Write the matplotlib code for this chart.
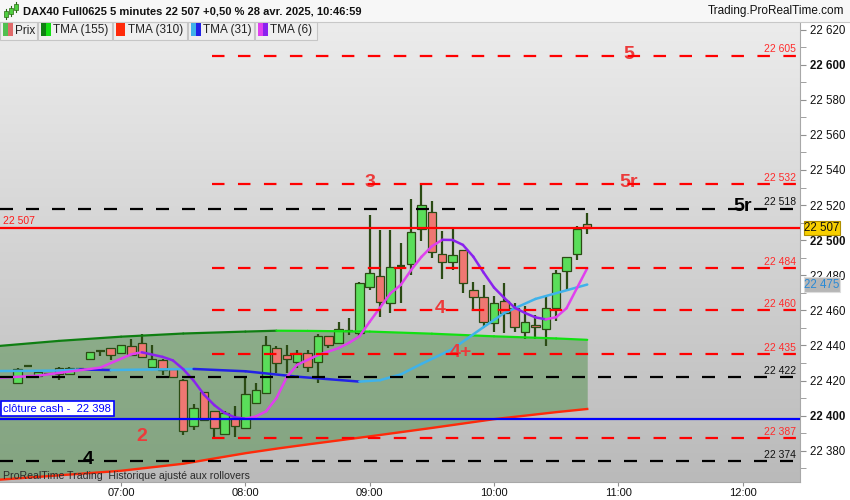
import numpy as np
import pandas as pd
import matplotlib.pyplot as plt
import matplotlib.transforms as mtransforms
from matplotlib.patches import Rectangle
from matplotlib.colors import LinearSegmentedColormap

plt.rcParams['font.family'] = ['Liberation Sans', 'DejaVu Sans']
plt.rcParams['lines.scale_dashes'] = False

W, H = 850, 500

# DAX40 Full0625, 5 minutes, 28 avr. 2025
candle_times = pd.date_range('2025-04-28 06:10', '2025-04-28 10:45', freq='5min')
opens = [22418.5, 22428.5, 22422.8, 22424.0, 22427.4, 22423.6, 22426.8, 22432.1, 22436.7, 22438.4,
         22435.9, 22439.5, 22441.3, 22427.9, 22431.7, 22426.4, 22420.3, 22394.3, 22413.3, 22402.7,
         22389.4, 22398.5, 22393.2, 22407.4, 22413.1, 22438.4, 22434.4, 22430.4, 22435.6, 22430.4,
         22445.4, 22441.3, 22448.0, 22447.0, 22473.2, 22479.8, 22464.0, 22485.2, 22486.3, 22506.4,
         22515.9, 22492.0, 22487.4, 22494.4, 22471.6, 22467.5, 22453.0, 22465.4, 22461.2, 22447.9,
         22451.5, 22449.2, 22461.2, 22482.5, 22492.0, 22509.2]
closes = [22426.4, 22428.5, 22425.0, 22424.0, 22423.6, 22427.0, 22426.8, 22436.1, 22436.7, 22434.4,
          22440.1, 22434.6, 22433.3, 22432.3, 22426.0, 22422.2, 22391.5, 22404.2, 22397.5, 22393.2,
          22401.4, 22394.3, 22412.2, 22414.6, 22440.3, 22430.2, 22432.1, 22435.6, 22427.6, 22445.4,
          22440.1, 22449.2, 22448.0, 22475.4, 22481.1, 22465.0, 22484.9, 22485.2, 22504.8, 22519.9,
          22493.1, 22487.4, 22491.4, 22475.4, 22467.8, 22453.2, 22464.0, 22458.3, 22450.4, 22453.2,
          22450.4, 22461.2, 22481.1, 22490.3, 22506.2, 22507.0]
highs = [22427.0, 22428.8, 22425.5, 22424.5, 22428.0, 22428.0, 22427.2, 22436.3, 22437.0, 22438.6,
         22440.3, 22443.7, 22446.5, 22440.3, 22432.0, 22426.6, 22421.0, 22406.7, 22413.5, 22402.9,
         22402.7, 22405.5, 22421.3, 22418.8, 22445.4, 22439.9, 22440.3, 22437.4, 22437.4, 22446.6,
         22445.6, 22453.2, 22455.7, 22476.4, 22514.4, 22505.8, 22505.8, 22498.2, 22523.3, 22531.5,
         22522.3, 22505.2, 22507.5, 22494.6, 22476.4, 22474.5, 22468.2, 22475.4, 22464.0, 22462.5,
         22457.4, 22467.5, 22483.0, 22490.6, 22508.1, 22515.3]
lows = [22418.0, 22428.2, 22422.5, 22423.5, 22420.3, 22423.3, 22426.4, 22432.0, 22434.2, 22431.7,
        22435.7, 22434.4, 22433.1, 22427.7, 22423.2, 22421.5, 22389.0, 22391.9, 22397.3, 22386.6,
        22389.2, 22388.0, 22393.0, 22407.2, 22412.9, 22424.2, 22424.5, 22427.0, 22425.1, 22418.5,
        22438.6, 22441.1, 22446.0, 22445.0, 22471.6, 22456.0, 22458.3, 22464.0, 22480.2, 22499.7,
        22490.0, 22477.9, 22483.0, 22470.1, 22459.8, 22451.1, 22447.7, 22447.3, 22447.5, 22443.5,
        22443.5, 22439.9, 22454.1, 22471.2, 22488.7, 22503.4]

# moving averages
long_ma_times = ["06:00", "06:30", "07:00", "07:30", "08:00", "08:15", "08:30", "09:00",
                 "09:30", "10:00", "10:30", "10:45"]
tma155 = [22439.6, 22442.6, 22445.0, 22446.8, 22447.9, 22448.4, 22448.3, 22447.9,
          22446.7, 22445.2, 22444.0, 22443.2]
tma310 = [22363.4, 22366.0, 22368.6, 22372.6, 22378.6, 22381.2, 22383.6, 22388.2,
          22393.0, 22398.0, 22402.0, 22403.8]

tma31_times = ["06:00", "06:30", "06:40", "06:55", "07:15", "07:35", "08:00", "08:25", "08:55",
               "09:05", "09:15", "09:25", "09:40", "09:55", "10:05", "10:20", "10:45"]
tma31 = [22425.4, 22425.7, 22426.3, 22426.0, 22426.3, 22426.6, 22425.3, 22422.2, 22419.4,
         22420.2, 22423.5, 22429.5, 22438.0, 22450.5, 22458.5, 22466.5, 22474.7]

tma6_times = ["06:00", "06:20", "06:50", "07:05", "07:10", "07:20", "07:25", "07:30", "07:35", "07:40",
              "07:45", "07:50", "07:55", "08:00", "08:05", "08:10", "08:15", "08:20", "08:25", "08:35",
              "08:45", "08:50", "08:55", "09:00", "09:10", "09:15", "09:20", "09:25", "09:30", "09:35",
              "09:40", "09:45", "09:50", "09:55", "10:00", "10:05", "10:10", "10:15", "10:20", "10:25",
              "10:30", "10:35", "10:40", "10:45"]
tma6 = [22421.5, 22422.8, 22427.4, 22435.0, 22436.1, 22433.5, 22431.5, 22426.5, 22420.0, 22412.0,
        22406.0, 22401.5, 22399.0, 22398.3, 22399.5, 22402.5, 22410.0, 22422.0, 22429.0, 22434.5,
        22438.5, 22441.5, 22445.2, 22453.5, 22469.7, 22474.5, 22483.0, 22490.5, 22496.5, 22500.2,
        22500.1, 22497.3, 22490.6, 22481.5, 22473.0, 22467.0, 22461.5, 22458.5, 22456.0, 22454.9,
        22456.1, 22461.2, 22472.6, 22484.0]

# horizontal levels
red_levels = [22605, 22532, 22484, 22460, 22435, 22387]
black_levels = [22518, 22422, 22374]
last_price = 22507
cash_close = 22398

pivot_text = ["5", "3", "5r", "5r", "4", "4+", "2", "4"]
pivot_level = [22605, 22532, 22532, 22518, 22460, 22435, 22387, 22374]
pivot_time = ["11:05", "09:00", "11:05", "12:00", "09:34", "09:44", "07:10", "06:44"]
pivot_black = [False, False, False, True, False, False, False, True]

x_ticks = ["07:00", "08:00", "09:00", "10:00", "11:00", "12:00"]
y_ticks = list(range(22380, 22621, 20))


def to_min(s):
    h, m = s.split(':')
    return int(h) * 60 + int(m)


def fmt(v):
    return f"{int(round(v)):,}".replace(",", " ")


def slope_line(ax, times, vals, up, down, lw):
    # ProRealTime colours an average by the sign of its slope
    t = [to_min(s) for s in times]
    for i in range(len(t) - 1):
        c = up if vals[i + 1] >= vals[i] else down
        ax.plot(t[i:i + 2], vals[i:i + 2], color=c, lw=lw, solid_capstyle='round', zorder=4)


fig = plt.figure(figsize=(W / 100, H / 100), dpi=100, facecolor='white')
ax = fig.add_axes([0, 18 / H, 800 / W, 460 / H])
xmin, xmax = 361.55, 747.7
ymin, ymax = 22362.2, 22624.3

bg = LinearSegmentedColormap.from_list('bg', ['#ececec', '#bababa'])
ax.imshow(np.linspace(0, 1, 256).reshape(-1, 1), extent=[xmin, xmax, ymin, ymax],
          aspect='auto', cmap=bg, origin='upper', zorder=0)

# band between the two long averages
lt = [to_min(s) for s in long_ma_times]
ax.fill_between(lt, tma310, tma155, color='#4f8f4a', alpha=0.5, lw=0, zorder=1)

# candles
ct = np.array([d.hour * 60 + d.minute for d in candle_times])
edge = '#2b4b14'
for t, o, h, l, c in zip(ct, opens, highs, lows, closes):
    ax.vlines(t, l, h, color=edge, lw=1.6, zorder=3)
    if abs(c - o) < 0.6:
        ax.hlines(o, t - 2.0, t + 2.0, color=edge, lw=1.6, zorder=3)
    else:
        ax.bar(t, c - o, bottom=o, width=4.1, color='#5ade5a' if c > o else '#ef7772',
               edgecolor=edge, lw=0.9, zorder=3)

# averages
slope_line(ax, long_ma_times, tma155, '#0f7f12', '#12e012', 1.6)
ax.plot(lt, tma310, color='#ff2a0a', lw=1.7, zorder=4)
slope_line(ax, tma31_times, tma31, '#3fb2ea', '#2222e6', 1.8)
slope_line(ax, tma6_times, tma6, '#e040ee', '#8a22ee', 1.8)

# levels
red_start = to_min("07:44")
for lv in red_levels:
    ax.plot([red_start, xmax], [lv, lv], color='#ff0000', lw=1.6, dashes=(9, 9.7), zorder=6)
    ax.annotate(fmt(lv), xy=(1, lv), xycoords=('axes fraction', 'data'), xytext=(-3, 1),
                textcoords='offset points', ha='right', va='bottom', fontsize=7.5,
                color='#ff2b2b', zorder=7)
for lv in black_levels:
    ax.plot([xmin, xmax], [lv, lv], color='black', lw=1.6, dashes=(9.36, 9.36), zorder=6)
    ax.annotate(fmt(lv), xy=(1, lv), xycoords=('axes fraction', 'data'), xytext=(-3, 1),
                textcoords='offset points', ha='right', va='bottom', fontsize=7.5,
                color='#111111', zorder=7)
ax.axhline(last_price, color='#ff0000', lw=1.6, zorder=6)
ax.axhline(cash_close, color='#0000ff', lw=1.6, zorder=6)

for txt, lv, tm, blk in zip(pivot_text, pivot_level, pivot_time, pivot_black):
    ax.text(to_min(tm), lv + 1, txt, ha='center', va='center', fontsize=14, fontweight='bold',
            color='#000000' if blk else '#ec3b3b', zorder=5)

ax.annotate(fmt(last_price), xy=(0, last_price), xycoords=('axes fraction', 'data'),
            xytext=(2, 1.5), textcoords='offset points', ha='left', va='bottom',
            fontsize=7.5, color='#ff1a1a', zorder=7)
ax.annotate("clôture cash -  " + fmt(cash_close), xy=(0, cash_close),
            xycoords=('axes fraction', 'data'), xytext=(2.5, 4), textcoords='offset points',
            ha='left', va='bottom', fontsize=8, color='#0000ff', zorder=8,
            bbox=dict(boxstyle='square,pad=0.22', fc='white', ec='#0000ff', lw=1.2))

# axes
ax.set_xlim(xmin, xmax)
ax.set_ylim(ymin, ymax)
ax.yaxis.tick_right()
ax.set_yticks(y_ticks, labels=[fmt(v) for v in y_ticks])
for lab, v in zip(ax.get_yticklabels(), y_ticks):
    if v % 100 == 0:
        lab.set_fontweight('bold')
        lab.set_fontsize(9.5)
ax.set_yticks(range(22370, 22621, 10), minor=True)
ax.tick_params(axis='y', which='both', direction='out', length=4, pad=3, labelsize=8.3,
               color='#909090', labelcolor='#111111')
ax.set_xticks([to_min(s) for s in x_ticks], labels=x_ticks)
ax.tick_params(axis='x', direction='out', length=3, pad=1, labelsize=8,
               color='#909090', labelcolor='#111111')
for s in ['top', 'left']:
    ax.spines[s].set_visible(False)
for s in ['right', 'bottom']:
    ax.spines[s].set_color('#a8a8a8')

# price boxes on the right scale
bt = mtransforms.blended_transform_factory(fig.transFigure, ax.transData)
fig.patches.append(Rectangle((804 / W, last_price - 4.1), 36 / W, 8.2, transform=bt,
                             fc='#f7cf00', ec='#b09000', lw=0.8, zorder=5))
fig.text(822 / W, last_price, fmt(last_price), transform=bt, ha='center', va='center',
         fontsize=8.3, color='#111111', zorder=6)
fig.patches.append(Rectangle((804 / W, tma31[-1] - 4.1), 36 / W, 8.2, transform=bt,
                             fc='#b6b6b6', ec='#dddddd', lw=0.8, zorder=5))
fig.text(822 / W, tma31[-1], fmt(tma31[-1]), transform=bt, ha='center', va='center',
         fontsize=8.3, color='#2a8ad6', zorder=6)


# header
def px(x, y):
    return x / W, 1 - y / H


fig.patches.append(Rectangle(px(0, 21.5), 1, 21.5 / H, transform=fig.transFigure,
                             fc='#f7f7f7', ec='none', zorder=2))
fig.lines.append(plt.Line2D([0, 1], [1 - 21.5 / H] * 2, transform=fig.transFigure,
                            color='#c8c8c8', lw=0.8, zorder=3))
for cx, y0, y1 in [(6, 11, 17), (11, 8, 14), (16, 4, 10)]:
    fig.lines.append(plt.Line2D([cx / W] * 2, [1 - (y0 - 2) / H, 1 - (y1 + 2) / H],
                                transform=fig.transFigure, color='#2b6b14', lw=0.8, zorder=3))
    fig.patches.append(Rectangle(px(cx - 1.8, y1), 3.6 / W, (y1 - y0) / H,
                                 transform=fig.transFigure, fc='#4fcf3f', ec='#2b6b14',
                                 lw=0.5, zorder=4))
fig.text(*px(23, 11), "DAX40 Full0625 5 minutes 22 507 +0,50 % 28 avr. 2025, 10:46:59",
         ha='left', va='center', fontsize=8, fontweight='bold', color='#111111')
fig.text(*px(844, 11), "Trading.ProRealTime.com", ha='right', va='center', fontsize=8.5,
         color='#111111')

legend_boxes = [(0, 37, "Prix", ('#50c050', '#e06a6a')),
                (38, 112, "TMA (155)", ('#0f7f12', '#12e012')),
                (113, 187, "TMA (310)", ('#ff2a0a', '#ff2a0a')),
                (188, 254, "TMA (31)", ('#3fb2ea', '#2222e6')),
                (255, 317, "TMA (6)", ('#e040ee', '#8a22ee'))]
for x0, x1, name, (c1, c2) in legend_boxes:
    fig.patches.append(Rectangle(px(x0, 40), (x1 - x0) / W, 18 / H, transform=fig.transFigure,
                                 fc='#efefef', ec='#c6c6c6', lw=0.8, zorder=2))
    fig.patches.append(Rectangle(px(x0 + 2.5, 36), 5 / W, 13 / H, transform=fig.transFigure,
                                 fc=c1, ec='none', zorder=3))
    fig.patches.append(Rectangle(px(x0 + 7.5, 36), 5 / W, 13 / H, transform=fig.transFigure,
                                 fc=c2, ec='none', zorder=3))
    fig.text(*px(x0 + 15, 30.5), name, ha='left', va='center', fontsize=8.5, color='#222222')

fig.text(*px(3, 476), "ProRealTime Trading  Historique ajusté aux rollovers", ha='left',
         va='center', fontsize=7.6, color='#2a2a2a')

fig.savefig('out.png', dpi=100, facecolor='white')
